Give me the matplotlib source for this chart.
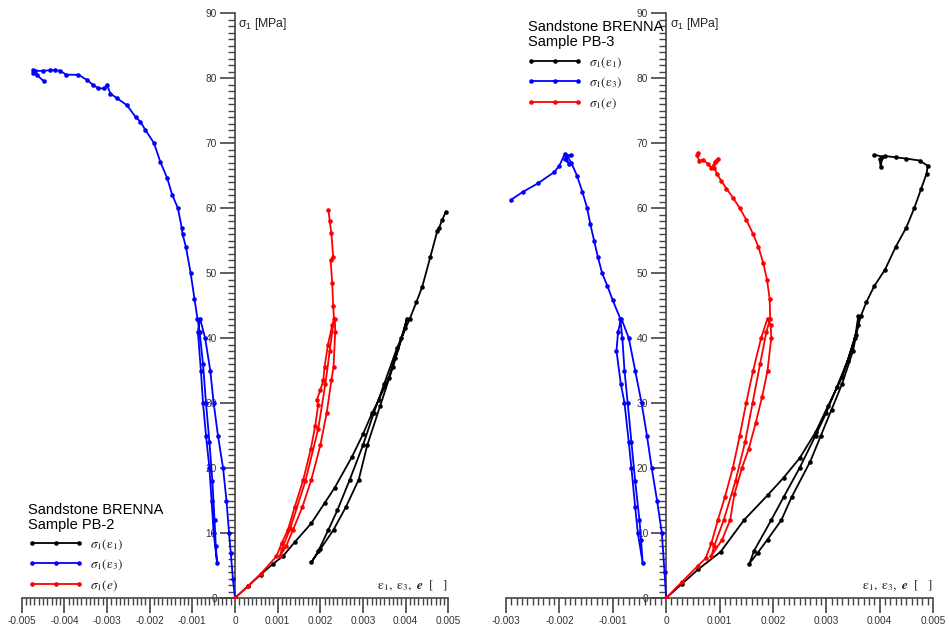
import numpy as np
import matplotlib
matplotlib.use("Agg")
import matplotlib.pyplot as plt
from matplotlib.ticker import MultipleLocator, FuncFormatter
from matplotlib.font_manager import FontProperties
from matplotlib.transforms import blended_transform_factory

plt.rcParams['font.family'] = ['Liberation Sans', 'DejaVu Sans']
plt.rcParams['mathtext.fontset'] = 'custom'
plt.rcParams['mathtext.rm'] = 'Liberation Sans'
plt.rcParams['mathtext.it'] = 'Liberation Sans:italic'
plt.rcParams['axes.unicode_minus'] = False

# ---- Sample PB-2 (strain [-], stress [MPa]) ----
pb2_eps1_x = [0, 0.0003, 0.0006, 0.0009, 0.00112, 0.0014, 0.00179, 0.0021, 0.00234, 0.00274, 0.003,
              0.00321, 0.00337, 0.0036, 0.00376, 0.0039, 0.00403,
              0.00398, 0.0037, 0.0034, 0.0031, 0.0029, 0.0026, 0.00231, 0.002, 0.00179,
              0.00195, 0.00219, 0.0024, 0.00269, 0.003, 0.00325, 0.0035, 0.0038, 0.0041,
              0.00425, 0.00439, 0.00458, 0.00474, 0.00478, 0.00486, 0.00494]
pb2_eps1_y = [0, 1.8, 3.6, 5.3, 6.4, 8.6, 11.5, 14.6, 17, 21.7, 25.2,
              28.4, 30.5, 33.8, 37, 40, 43,
              41.5, 35.5, 29.5, 23.5, 18.2, 14, 10.5, 7.5, 5.5,
              7.2, 10.5, 13.5, 18.2, 23.5, 28.4, 33, 38.5, 43,
              45.5, 47.9, 52.5, 56.4, 56.9, 58.2, 59.4]

pb2_eps3_x = [0, -0.00005, -0.0001, -0.00014, -0.0002, -0.00028, -0.0004, -0.0005, -0.00058, -0.0007, -0.00082,
              -0.00087, -0.0008, -0.00075, -0.00068, -0.0006, -0.00055, -0.0005, -0.00042,
              -0.00045, -0.00048, -0.00053, -0.0006, -0.00068, -0.00075, -0.00083, -0.00088,
              -0.00095, -0.00104, -0.00115, -0.00123, -0.00125, -0.00134, -0.00147, -0.00159, -0.00175,
              -0.0019, -0.0021, -0.00222, -0.00233, -0.00253, -0.00277, -0.00292, -0.003, -0.00308,
              -0.0032, -0.00332, -0.00347, -0.00367, -0.00395, -0.0041, -0.00422, -0.00434, -0.0045,
              -0.00469, -0.00473, -0.00473, -0.00465, -0.00448]
pb2_eps3_y = [0, 3, 7, 10, 15, 20, 25, 30, 35, 40, 43,
              41, 35, 30, 25, 20, 15, 10, 5.4,
              8, 12, 18, 24, 30, 36, 41, 43,
              46, 50, 54, 56, 57, 60, 62, 64.6, 67.1,
              70, 72, 73.3, 74, 75.8, 76.9, 77.6, 78.9, 78.4,
              78.4, 78.9, 79.7, 80.5, 80.5, 81.1, 81.2, 81.2, 81.1,
              81.1, 81.2, 80.7, 80.5, 79.5]

pb2_vol_x = [0, 0.0003, 0.0006, 0.00097, 0.0011, 0.00124, 0.0014, 0.0016, 0.00178, 0.00188, 0.00195,
             0.00192, 0.002, 0.00207, 0.0021, 0.00218, 0.00228, 0.00234,
             0.00235, 0.00231, 0.00226, 0.00215, 0.002, 0.00179, 0.00158, 0.00136, 0.0012, 0.00105,
             0.0011, 0.0013, 0.00165, 0.00195, 0.00212, 0.00222, 0.00232,
             0.0023, 0.00228, 0.00224, 0.0023, 0.00226, 0.00222, 0.00219]
pb2_vol_y = [0, 1.8, 3.7, 6.4, 8.5, 10.5, 14, 18.2, 23, 26.5, 29.7,
             30.5, 32, 33.5, 35.6, 39, 42, 43,
             41, 35.6, 33.5, 28.5, 23.5, 18.2, 14, 10.5, 8, 6.4,
             7.5, 10.8, 18, 26, 33, 38, 43,
             45, 48.4, 52, 52.5, 56.1, 58, 59.7]

# ---- Sample PB-3 ----
pb3_eps1_x = [0, 0.0003, 0.0006, 0.00102, 0.00146, 0.0019, 0.0022, 0.0025, 0.0028, 0.00303, 0.0033, 0.00354, 0.0036,
              0.0036, 0.0035, 0.0033, 0.0031, 0.0029, 0.0027, 0.00235, 0.00216, 0.0019, 0.00172, 0.00156,
              0.00165, 0.00197, 0.0022, 0.0025, 0.0028, 0.003, 0.0032, 0.0034, 0.00355, 0.00365,
              0.00375, 0.0039, 0.0041, 0.0043, 0.0045, 0.00465, 0.00478, 0.00488, 0.0049,
              0.00475, 0.0045, 0.0043, 0.0041, 0.0040, 0.00402, 0.00405, 0.0039]
pb3_eps1_y = [0, 2.2, 4.4, 7.1, 12, 15.8, 18.5, 21.5, 25.5, 29.5, 34, 40, 43.4,
              42, 38, 33, 29, 25, 21, 15.5, 12, 9, 7, 5.3,
              7.3, 12, 15.5, 20, 25, 28.5, 32.5, 36.5, 40.5, 43.4,
              45.5, 48, 50.5, 54, 57, 60, 63, 65.3, 66.5,
              67.3, 67.6, 67.8, 68, 67.5, 66.3, 67.9, 68.2]

pb3_eps3_x = [0, -0.00003, -0.00008, -0.00017, -0.00027, -0.00036, -0.00046, -0.00058, -0.0007, -0.00084,
              -0.0009, -0.00093, -0.00085, -0.00078, -0.0007, -0.00065, -0.00058, -0.00053, -0.00044,
              -0.00047, -0.0005, -0.00058, -0.00065, -0.00072, -0.00078, -0.00082, -0.00086,
              -0.001, -0.0011, -0.0012, -0.00128, -0.00135, -0.00142, -0.00148, -0.00157, -0.00167,
              -0.00178, -0.00185, -0.00178, -0.0019, -0.00182, -0.0019, -0.002, -0.0021, -0.0024,
              -0.00268, -0.0029]
pb3_eps3_y = [0, 4, 10, 15, 20, 25, 30, 35, 40, 43,
              41, 38, 33, 30, 24, 20, 14, 10, 5.4,
              9, 12, 18, 24, 30, 35, 40, 43,
              45.8, 48, 50, 52.5, 55, 57.5, 60, 62.5, 65,
              67, 68, 68.2, 67.5, 66.8, 68.3, 66.5, 65.5, 63.8,
              62.5, 61.3]

pb3_vol_x = [0, 0.0003, 0.0006, 0.00074, 0.00085, 0.00097, 0.0011, 0.00125, 0.00138, 0.0015, 0.00163, 0.00178, 0.0019,
             0.00196, 0.00197, 0.0019, 0.0018, 0.00168, 0.00155, 0.00142, 0.00128, 0.0012, 0.00105, 0.00085,
             0.0009, 0.00108, 0.0013, 0.00148, 0.00162, 0.00176, 0.00188, 0.00195,
             0.00194, 0.00189, 0.00182, 0.00173, 0.00163, 0.0015, 0.00138, 0.00125, 0.00113, 0.00103,
             0.00095, 0.0009, 0.00093, 0.00098, 0.00092, 0.00085, 0.00078, 0.0007, 0.00062, 0.00058, 0.0006]
pb3_vol_y = [0, 2.5, 5, 6.1, 8.5, 12, 15.5, 20, 25, 30, 35, 40, 43,
             42, 40, 35, 31, 27, 23, 20, 16, 12, 9, 6.5,
             8, 12, 18, 24, 30, 36, 41, 43,
             46, 49, 51.5, 54, 56, 58.2, 60, 61.6, 63, 64.2,
             65.3, 66.2, 67.2, 67.6, 67.1, 66.2, 66.8, 67.4, 67.3, 68.1, 68.4]

x_major = 0.001
y_major = 10
legend_labels = [r'$\sigma_1(\mathrm{\varepsilon}_1)$', r'$\sigma_1(\mathrm{\varepsilon}_3)$', r'$\sigma_1(e)$']

W, H = 949, 625
fig = plt.figure(figsize=(W / 100, H / 100), dpi=100)


def xfmt(v, pos):
    if abs(v) < 1e-12:
        return '0'
    return '%.3f' % v


def setup(ax, xmin, xmax):
    ax.set_xlim(xmin, xmax)
    ax.set_ylim(0, 90)
    for s in ['top', 'right']:
        ax.spines[s].set_visible(False)
    ax.spines['left'].set_position(('data', 0))
    ax.spines['bottom'].set_position(('data', 0))
    for s in ['left', 'bottom']:
        ax.spines[s].set_color('#444444')
        ax.spines[s].set_linewidth(1.2)
    ax.xaxis.set_major_locator(MultipleLocator(x_major))
    ax.xaxis.set_minor_locator(MultipleLocator(x_major / 10))
    ax.yaxis.set_major_locator(MultipleLocator(y_major))
    ax.yaxis.set_minor_locator(MultipleLocator(1))
    ax.xaxis.set_major_formatter(FuncFormatter(xfmt))
    ax.tick_params(which='major', direction='out', length=11, width=1.2, color='#444444',
                   labelcolor='#333333', labelsize=7.3, pad=2)
    ax.tick_params(which='minor', direction='out', length=5, width=1, color='#444444')
    ax.set_axisbelow(True)
    ax.patch.set_alpha(0)
    ax.annotate(r'$\mathrm{\sigma_1}$ [MPa]', xy=(0, 1), xycoords=blended_transform_factory(ax.transData, ax.transAxes),
                xytext=(2.5, -2), textcoords='offset points', fontsize=8.8, va='top', ha='left', color='#222222')
    ax.text(1.0, 0.7, r'$\mathrm{\varepsilon}_1,\ \mathrm{\varepsilon}_3,\ \mathbfit{e}\ \ [\ \ \ ]$',
            transform=blended_transform_factory(ax.transAxes, ax.transData), ha='right', va='bottom',
            fontsize=9.5, math_fontfamily='stix', color='#222222')


def draw(ax, ex, ey, e3x, e3y, vx, vy):
    kw = dict(lw=1.3, marker='o', ms=3.3, mew=0, zorder=3)
    l1, = ax.plot(ex, ey, color='black', **kw)
    l3, = ax.plot(e3x, e3y, color='#0000ff', **kw)
    lv, = ax.plot(vx, vy, color='#ff0000', **kw)
    return [l1, l3, lv]


ax1 = fig.add_axes([21.7 / W, 27 / H, (448.3 - 21.7) / W, 585 / H])
setup(ax1, -0.005, 0.005)
h1 = draw(ax1, pb2_eps1_x, pb2_eps1_y, pb2_eps3_x, pb2_eps3_y, pb2_vol_x, pb2_vol_y)

ax2 = fig.add_axes([506 / W, 27 / H, (933 - 506) / W, 585 / H])
setup(ax2, -0.003, 0.005)
h2 = draw(ax2, pb3_eps1_x, pb3_eps1_y, pb3_eps3_x, pb3_eps3_y, pb3_vol_x, pb3_vol_y)

lp = FontProperties(family='Liberation Serif', size=9.5, math_fontfamily='stix')


def legend(ax, handles, x, y, title, tx, ty):
    leg = ax.legend(handles, legend_labels, loc='upper left', bbox_to_anchor=(x / W, 1 - y / H),
                    bbox_transform=fig.transFigure, frameon=False, numpoints=3, handlelength=4.2,
                    handletextpad=0.5, labelspacing=0.45, borderpad=0, borderaxespad=0, prop=lp)
    for t in leg.get_texts():
        t.set_color('#222222')
    fig.text(tx / W, 1 - ty / H, title, fontsize=10.5, va='top', ha='left', linespacing=1.05)


legend(ax1, h1, 28, 537, 'Sandstone BRENNA\nSample PB-2', 28, 503)
legend(ax2, h2, 527, 55, 'Sandstone BRENNA\nSample PB-3', 528, 20)

fig.savefig('out.png', dpi=100)
